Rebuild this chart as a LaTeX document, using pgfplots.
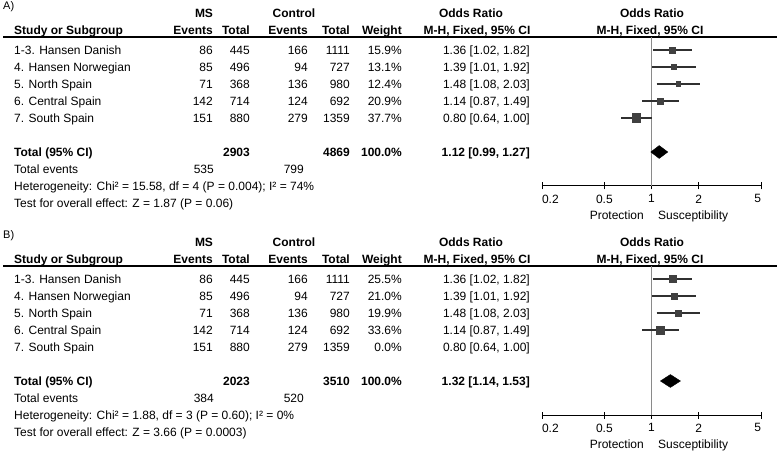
\documentclass[border=0pt]{standalone}
\usepackage{pgfplots}
\pgfplotsset{compat=1.18}
\usepackage{fontspec}
\setmainfont{Liberation Sans}
\definecolor{sq}{HTML}{404040}
\definecolor{wh}{HTML}{303030}
\definecolor{vl}{HTML}{8A8A8A}
\newcommand\F{\fontsize{12}{14}\selectfont}
% table row: #1 y-centre, #2 name, #3 ev, #4 tot, #5 ev, #6 tot, #7 weight, #8 OR
\newcommand\trow[8]{%
  \node[anchor=base west] at (14,{#1+4.3}) {#2};
  \node[anchor=base east] at (213,{#1+4.3}) {#3};
  \node[anchor=base east] at (250,{#1+4.3}) {#4};
  \node[anchor=base east] at (308,{#1+4.3}) {#5};
  \node[anchor=base east] at (350,{#1+4.3}) {#6};
  \node[anchor=base east] at (402,{#1+4.3}) {#7};
  \node[anchor=base east] at (530,{#1+4.3}) {#8};
}
\pgfplotsset{every axis/.append style={
  scale only axis, width=219pt, height=149pt, anchor=south west,
  xmode=log, xmin=0.2, xmax=5, ymin=-9, ymax=-0.235,
  hide y axis, axis x line*=bottom,
  xtick={0.2,0.5,1,2,5},
  xticklabels={\makebox[0pt][l]{0.2},0.5,1,2,\makebox[0pt][r]{5}},
  xminorticks=false,
  tick align=center, major tick length=7pt,
  x axis line style={line width=1pt}, xtick style={black,line width=1pt},
  xticklabel style={font=\F, inner sep=0pt, yshift=-5pt},
  /pgf/number format/assume math mode=true,
  clip=false}}
\begin{document}
\F
\begin{tikzpicture}[x=1pt,y=-1pt, every node/.style={inner sep=0pt, font=\F}]
\useasboundingbox (0,0) rectangle (777,457);

% ================= PANEL A =================
\begin{scope}
\node[anchor=base west,font=\fontsize{11}{13}\selectfont] at (3,10) {A)};
\node[anchor=base,font=\F\bfseries] at (204,{13+4.3}) {MS};
\node[anchor=base,font=\F\bfseries] at (294,{13+4.3}) {Control};
\node[anchor=base,font=\F\bfseries] at (471,{13+4.3}) {Odds Ratio};
\node[anchor=base,font=\F\bfseries] at (652,{13+4.3}) {Odds Ratio};
\node[anchor=base west,font=\F\bfseries] at (14,{30+4.3}) {Study or Subgroup};
\node[anchor=base east,font=\F\bfseries] at (213,{30+4.3}) {Events};
\node[anchor=base east,font=\F\bfseries] at (250,{30+4.3}) {Total};
\node[anchor=base east,font=\F\bfseries] at (308,{30+4.3}) {Events};
\node[anchor=base east,font=\F\bfseries] at (350,{30+4.3}) {Total};
\node[anchor=base east,font=\F\bfseries] at (402,{30+4.3}) {Weight};
\node[anchor=base,font=\F\bfseries] at (477,{30+4.3}) {M-H, Fixed, 95\% CI};
\node[anchor=base,font=\F\bfseries] at (650,{30+4.3}) {M-H, Fixed, 95\% CI};
\draw[line width=1.2pt] (3,37) -- (777,37);
\trow{50}{1-3. Hansen Danish}{86}{445}{166}{1111}{15.9\%}{1.36 [1.02, 1.82]}
\trow{67}{4. Hansen Norwegian}{85}{496}{94}{727}{13.1\%}{1.39 [1.01, 1.92]}
\trow{84}{5. North Spain}{71}{368}{136}{980}{12.4\%}{1.48 [1.08, 2.03]}
\trow{101}{6. Central Spain}{142}{714}{124}{692}{20.9\%}{1.14 [0.87, 1.49]}
\trow{118}{7. South Spain}{151}{880}{279}{1359}{37.7\%}{0.80 [0.64, 1.00]}
\node[anchor=base west,font=\F\bfseries] at (14,{152+4.3}) {Total (95\% CI)};
\node[anchor=base east,font=\F\bfseries] at (250,{152+4.3}) {2903};
\node[anchor=base east,font=\F\bfseries] at (350,{152+4.3}) {4869};
\node[anchor=base east,font=\F\bfseries] at (402,{152+4.3}) {100.0\%};
\node[anchor=base east,font=\F\bfseries] at (530,{152+4.3}) {1.12 [0.99, 1.27]};
\node[anchor=base west] at (14,{169+4.3}) {Total events};
\node[anchor=base east] at (214,{169+4.3}) {535};
\node[anchor=base east] at (304,{169+4.3}) {799};
\node[anchor=base west] at (14,{186+4.3}) {Heterogeneity: Chi² = 15.58, df = 4 (P = 0.004); I² = 74\%};
\node[anchor=base west] at (14,{203+4.3}) {Test for overall effect: Z = 1.87 (P = 0.06)};
\node[anchor=base east] at (644,{215+4.3}) {Protection};
\node[anchor=base west] at (658,{215+4.3}) {Susceptibility};
\end{scope}

% ================= PANEL B =================
\begin{scope}[yshift=-229pt]
\node[anchor=base west,font=\fontsize{11}{13}\selectfont] at (3,10) {B)};
\node[anchor=base,font=\F\bfseries] at (204,{13+4.3}) {MS};
\node[anchor=base,font=\F\bfseries] at (294,{13+4.3}) {Control};
\node[anchor=base,font=\F\bfseries] at (471,{13+4.3}) {Odds Ratio};
\node[anchor=base,font=\F\bfseries] at (652,{13+4.3}) {Odds Ratio};
\node[anchor=base west,font=\F\bfseries] at (14,{30+4.3}) {Study or Subgroup};
\node[anchor=base east,font=\F\bfseries] at (213,{30+4.3}) {Events};
\node[anchor=base east,font=\F\bfseries] at (250,{30+4.3}) {Total};
\node[anchor=base east,font=\F\bfseries] at (308,{30+4.3}) {Events};
\node[anchor=base east,font=\F\bfseries] at (350,{30+4.3}) {Total};
\node[anchor=base east,font=\F\bfseries] at (402,{30+4.3}) {Weight};
\node[anchor=base,font=\F\bfseries] at (477,{30+4.3}) {M-H, Fixed, 95\% CI};
\node[anchor=base,font=\F\bfseries] at (650,{30+4.3}) {M-H, Fixed, 95\% CI};
\draw[line width=1.2pt] (3,37) -- (777,37);
\trow{50}{1-3. Hansen Danish}{86}{445}{166}{1111}{25.5\%}{1.36 [1.02, 1.82]}
\trow{67}{4. Hansen Norwegian}{85}{496}{94}{727}{21.0\%}{1.39 [1.01, 1.92]}
\trow{84}{5. North Spain}{71}{368}{136}{980}{19.9\%}{1.48 [1.08, 2.03]}
\trow{101}{6. Central Spain}{142}{714}{124}{692}{33.6\%}{1.14 [0.87, 1.49]}
\trow{118}{7. South Spain}{151}{880}{279}{1359}{0.0\%}{0.80 [0.64, 1.00]}
\node[anchor=base west,font=\F\bfseries] at (14,{152+4.3}) {Total (95\% CI)};
\node[anchor=base east,font=\F\bfseries] at (250,{152+4.3}) {2023};
\node[anchor=base east,font=\F\bfseries] at (350,{152+4.3}) {3510};
\node[anchor=base east,font=\F\bfseries] at (402,{152+4.3}) {100.0\%};
\node[anchor=base east,font=\F\bfseries] at (530,{152+4.3}) {1.32 [1.14, 1.53]};
\node[anchor=base west] at (14,{169+4.3}) {Total events};
\node[anchor=base east] at (214,{169+4.3}) {384};
\node[anchor=base east] at (304,{169+4.3}) {520};
\node[anchor=base west] at (14,{186+4.3}) {Heterogeneity: Chi² = 1.88, df = 3 (P = 0.60); I² = 0\%};
\node[anchor=base west] at (14,{203+4.3}) {Test for overall effect: Z = 3.66 (P = 0.0003)};
\node[anchor=base east] at (644,{215+4.3}) {Protection};
\node[anchor=base west] at (658,{215+4.3}) {Susceptibility};
\end{scope}

% ---- forest A ----
\begin{axis}[at={(542pt,-186pt)}]
\addplot[vl, line width=1.3pt] coordinates {(1,-0.235) (1,-9)};
\addplot[wh, line width=1.2pt] coordinates {(1.02,-1) (1.82,-1)};
\addplot[wh, line width=1.2pt] coordinates {(1.01,-2) (1.92,-2)};
\addplot[wh, line width=1.2pt] coordinates {(1.08,-3) (2.03,-3)};
\addplot[wh, line width=1.2pt] coordinates {(0.87,-4) (1.49,-4)};
\addplot[wh, line width=1.2pt] coordinates {(0.64,-5) (1.00,-5)};
\addplot[only marks, mark=square*, sq, mark size=2.8pt] coordinates {(1.36,-1)};
\addplot[only marks, mark=square*, sq, mark size=2.55pt] coordinates {(1.39,-2)};
\addplot[only marks, mark=square*, sq, mark size=2.45pt] coordinates {(1.48,-3)};
\addplot[only marks, mark=square*, sq, mark size=3.2pt] coordinates {(1.14,-4)};
\addplot[only marks, mark=square*, sq, mark size=4.3pt] coordinates {(0.80,-5)};
\addplot[fill=black, draw=black] coordinates {(0.99,-7) (1.12,-6.62) (1.27,-7) (1.12,-7.38)} -- cycle;
\end{axis}

% ---- forest B ----
\begin{axis}[at={(542pt,-415pt)}]
\addplot[vl, line width=1.3pt] coordinates {(1,-0.235) (1,-9)};
\addplot[wh, line width=1.2pt] coordinates {(1.02,-1) (1.82,-1)};
\addplot[wh, line width=1.2pt] coordinates {(1.01,-2) (1.92,-2)};
\addplot[wh, line width=1.2pt] coordinates {(1.08,-3) (2.03,-3)};
\addplot[wh, line width=1.2pt] coordinates {(0.87,-4) (1.49,-4)};
\addplot[only marks, mark=square*, sq, mark size=3.55pt] coordinates {(1.36,-1)};
\addplot[only marks, mark=square*, sq, mark size=3.2pt] coordinates {(1.39,-2)};
\addplot[only marks, mark=square*, sq, mark size=3.1pt] coordinates {(1.48,-3)};
\addplot[only marks, mark=square*, sq, mark size=4.05pt] coordinates {(1.14,-4)};
\addplot[fill=black, draw=black] coordinates {(1.14,-7) (1.32,-6.62) (1.53,-7) (1.32,-7.38)} -- cycle;
\end{axis}
\end{tikzpicture}
\end{document}
